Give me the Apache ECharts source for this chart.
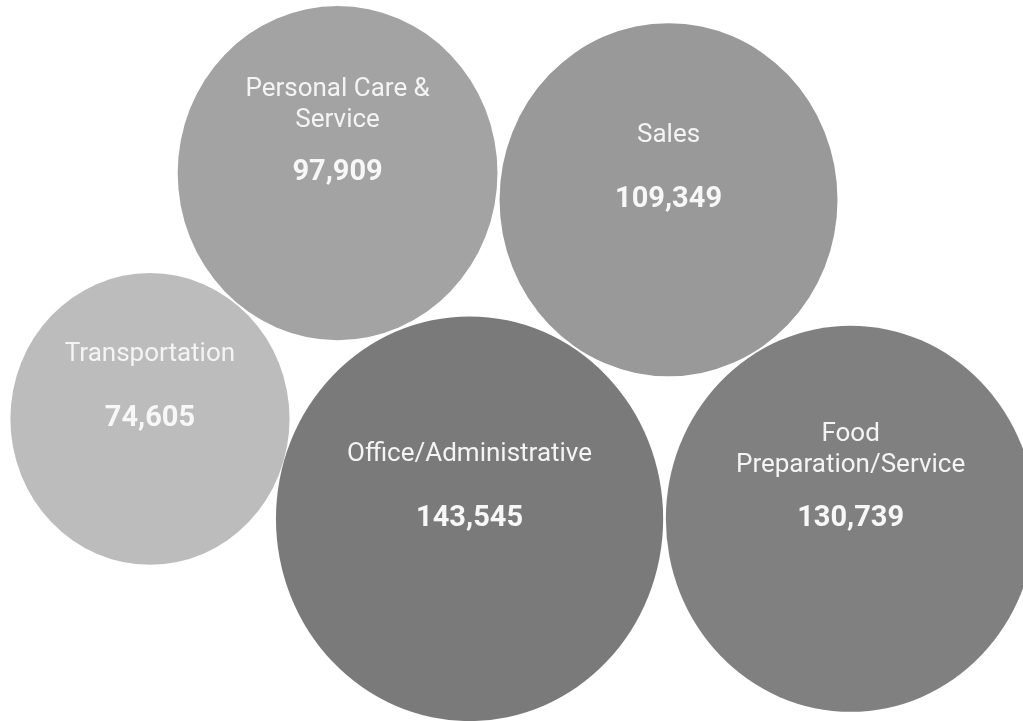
<!DOCTYPE html>
<html>
<head>
<meta charset="utf-8">
<script src="https://cdn.jsdelivr.net/npm/echarts@6/dist/echarts.min.js"></script>
<style>
  html, body { margin: 0; padding: 0; background: #fff; }
  #chart { width: 1023px; height: 721px; }
</style>
</head>
<body>
<div id="chart"></div>
<script>
// occupations and their counts
var names = ['Personal Care &\nService', 'Sales', 'Transportation', 'Office/Administrative', 'Food\nPreparation/Service'];
var counts = [97909, 109349, 74605, 143545, 130739];
// bubble layout position (percent of the chart width / height)
var xPos = [33.0, 65.35, 14.66, 45.9, 83.15];
var yPos = [24.0, 27.7, 58.1, 71.95, 71.95];
var colors = ['#a3a3a3', '#999999', '#bcbcbc', '#7a7a7a', '#808080'];

var chart = echarts.init(document.getElementById('chart'));

var nameLH = 31;
var data = names.map(function (n, i) {
  var nLines = n.split('\n').length;
  // distance between last name line and the number
  var gap = nLines > 1 ? 53 : 64;
  return {
    name: n,
    value: [xPos[i], yPos[i], counts[i]],
    itemStyle: { color: colors[i] },
    label: {
      offset: [0, -nLines * nameLH / 2],
      rich: {
        n: { fontFamily: 'Roboto', fontSize: 26, color: '#f4f4f4', lineHeight: nameLH },
        v: { fontFamily: 'Roboto', fontSize: 29, fontWeight: 'bold', color: '#f7f7f7', lineHeight: 2 * gap - nameLH }
      }
    }
  };
});

chart.setOption({
  animation: false,
  grid: { left: 0, right: 0, top: 0, bottom: 0 },
  xAxis: { type: 'value', min: 0, max: 100, show: false },
  yAxis: { type: 'value', min: 0, max: 100, inverse: true, show: false },
  series: [{
    type: 'scatter',
    symbol: 'circle',
    // bubble area proportional to the count
    symbolSize: function (val) {
      var r = Math.sqrt(val[2]);
      return [1.022 * r, 1.068 * r];
    },
    itemStyle: { opacity: 1 },
    label: {
      show: true,
      position: 'inside',
      formatter: function (p) {
        var lines = p.name.split('\n').map(function (l) { return '{n|' + l + '}'; });
        return lines.join('\n') + '\n{v|' + p.value[2].toLocaleString('en-US') + '}';
      }
    },
    emphasis: { disabled: true },
    data: data
  }]
});
</script>
</body>
</html>
